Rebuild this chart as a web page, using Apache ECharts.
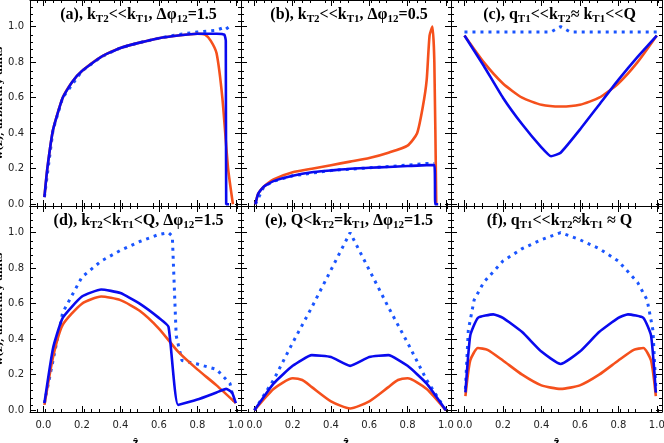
<!DOCTYPE html>
<html><head><meta charset="utf-8">
<script src="https://cdn.jsdelivr.net/npm/echarts@6/dist/echarts.min.js"></script>
<style>html,body{margin:0;padding:0;background:#fff}#c{width:664px;height:443px}</style>
</head><body><div id="c"></div>
<script>
const tickLabels = ['0.0','0.2','0.4','0.6','0.8','1.0'];
// panel (a)
const aSolidX = [0.005,0.02,0.05,0.1,0.15,0.2,0.3,0.4,0.5,0.6,0.7,0.8,0.9,0.94,0.948,0.95,0.965];
const aSolidY = [0.04,0.2,0.42,0.6,0.69,0.75,0.83,0.88,0.91,0.935,0.95,0.96,0.96,0.955,0.92,0,0];
const aOrX = [0.005,0.02,0.05,0.1,0.15,0.2,0.3,0.4,0.5,0.6,0.7,0.8,0.84,0.87,0.9,0.93,0.96,0.985];
const aOrY = [0.04,0.2,0.42,0.6,0.69,0.75,0.83,0.88,0.91,0.935,0.95,0.96,0.955,0.92,0.85,0.6,0.2,0];
const aDotX = [0.005,0.05,0.1,0.2,0.3,0.4,0.5,0.6,0.7,0.8,0.9,0.95,0.97];
const aDotY = [0.04,0.42,0.6,0.75,0.83,0.88,0.91,0.935,0.955,0.97,0.98,1.0,0.97];
// panel (b)
const bSolidX = [0.005,0.02,0.05,0.1,0.2,0.3,0.4,0.5,0.6,0.7,0.8,0.9,0.94,0.945,0.96];
const bSolidY = [0,0.06,0.1,0.13,0.16,0.18,0.19,0.2,0.205,0.21,0.215,0.22,0.22,0,0];
const bOrX = [0.005,0.02,0.05,0.1,0.2,0.3,0.4,0.5,0.6,0.7,0.8,0.85,0.88,0.9,0.915,0.93,0.94,0.95];
const bOrY = [0,0.06,0.1,0.14,0.18,0.2,0.22,0.24,0.26,0.29,0.33,0.4,0.55,0.7,0.95,1.0,0.8,0];
const bDotX = [0.005,0.05,0.1,0.2,0.4,0.6,0.8,0.9,0.94];
const bDotY = [0,0.1,0.13,0.16,0.19,0.205,0.22,0.23,0.23];
// panel (c)
const cSolidX = [0,0.1,0.2,0.3,0.4,0.45,0.5,0.6,0.7,0.8,0.9,1.0];
const cSolidY = [0.95,0.78,0.6,0.45,0.32,0.27,0.29,0.42,0.56,0.7,0.83,0.95];
const cOrX = [0,0.1,0.2,0.3,0.4,0.5,0.6,0.7,0.8,0.9,1.0];
const cOrY = [0.95,0.8,0.68,0.6,0.56,0.55,0.56,0.6,0.68,0.8,0.95];
const cDotX = [0,0.45,0.5,0.55,1.0];
const cDotY = [0.97,0.97,1.0,0.97,0.97];
// panel (d)
const dSolidX = [0.005,0.05,0.1,0.2,0.3,0.4,0.5,0.6,0.65,0.7,0.8,0.9,0.95,0.98,1.0];
const dSolidY = [0.04,0.35,0.52,0.64,0.68,0.66,0.6,0.52,0.47,0.03,0.06,0.1,0.12,0.1,0.04];
const dOrX = [0.005,0.05,0.1,0.2,0.3,0.4,0.5,0.6,0.7,0.8,0.9,1.0];
const dOrY = [0.03,0.3,0.48,0.6,0.64,0.62,0.56,0.46,0.33,0.23,0.14,0.04];
const dDotX = [0.005,0.1,0.2,0.3,0.4,0.5,0.6,0.65,0.67,0.69,0.72,0.8,0.9,0.97,0.99];
const dDotY = [0.04,0.55,0.75,0.84,0.9,0.95,0.99,1.0,0.98,0.42,0.28,0.26,0.23,0.15,0.05];
// panel (e)
const eSolidX = [0,0.1,0.2,0.3,0.4,0.5,0.6,0.7,0.8,0.9,1.0];
const eSolidY = [0,0.15,0.25,0.31,0.3,0.25,0.3,0.31,0.25,0.15,0];
const eOrX = [0,0.1,0.2,0.25,0.3,0.4,0.5,0.6,0.7,0.75,0.8,0.9,1.0];
const eOrY = [0,0.12,0.18,0.17,0.13,0.05,0.01,0.05,0.13,0.17,0.18,0.12,0];
const eDotX = [0,0.1,0.2,0.3,0.4,0.5,0.6,0.7,0.8,0.9,1.0];
const eDotY = [0,0.17,0.38,0.58,0.79,1.0,0.79,0.58,0.38,0.17,0];
// panel (f)
const fSolidX = [0.005,0.03,0.07,0.15,0.2,0.3,0.4,0.5,0.6,0.7,0.8,0.85,0.93,0.97,0.995];
const fSolidY = [0.1,0.42,0.52,0.54,0.52,0.44,0.33,0.26,0.33,0.44,0.52,0.54,0.52,0.42,0.1];
const fOrX = [0.005,0.03,0.07,0.12,0.2,0.3,0.4,0.5,0.6,0.7,0.8,0.88,0.93,0.97,0.995];
const fOrY = [0.08,0.28,0.35,0.34,0.28,0.2,0.14,0.12,0.14,0.2,0.28,0.34,0.35,0.28,0.08];
const fDotX = [0.005,0.02,0.05,0.1,0.2,0.3,0.4,0.5,0.6,0.7,0.8,0.9,0.95,0.98,0.995];
const fDotY = [0.12,0.45,0.62,0.72,0.84,0.91,0.96,1.0,0.96,0.91,0.84,0.72,0.62,0.45,0.12];

const panels = [
 {t:['(a), k','T2','<<k','T1',', Δφ','12','=1.5'], s:[aSolidX,aSolidY], o:[aOrX,aOrY], d:[aDotX,aDotY]},
 {t:['(b), k','T2','<<k','T1',', Δφ','12','=0.5'], s:[bSolidX,bSolidY], o:[bOrX,bOrY], d:[bDotX,bDotY]},
 {t:['(c), q','T1','<<k','T2','≈ k','T1','<<Q'], s:[cSolidX,cSolidY], o:[cOrX,cOrY], d:[cDotX,cDotY]},
 {t:['(d), k','T2','<k','T1','<Q, Δφ','12','=1.5'], s:[dSolidX,dSolidY], o:[dOrX,dOrY], d:[dDotX,dDotY]},
 {t:['(e), Q<k','T2','=k','T1',', Δφ','12','=1.5'], s:[eSolidX,eSolidY], o:[eOrX,eOrY], d:[eDotX,eDotY]},
 {t:['(f), q','T1','<<k','T2','≈k','T1',' ≈ Q'], s:[fSolidX,fSolidY], o:[fOrX,fOrY], d:[fDotX,fDotY]}
];
const lefts=[30,241,451], widths=[211,210,211], tops=[0,206], H=206;
const grid=[],xAxis=[],yAxis=[],series=[],graphic=[];
const zip=(a,b)=>a.map((v,i)=>[v,b[i]]);
const fmt=v=>v.toFixed(1);
const cv=[0,0.2,0.4,0.6,0.8,1.0];
panels.forEach((p,i)=>{
  const col=i%3,row=Math.floor(i/3);
  grid.push({left:lefts[col],top:tops[row],width:widths[col],height:H,containLabel:false,outerBoundsMode:'none'});
  const tk={show:true,inside:true,length:6,lineStyle:{color:'#000'},customValues:cv};
  const mt={show:true,splitNumber:5,length:3,lineStyle:{color:'#000'}};
  const line={show:true,onZero:false,lineStyle:{color:'#000',width:1}};
  const base={type:'value',gridIndex:i,interval:0.2,axisLine:line,axisTick:tk,minorTick:mt,splitLine:{show:false}};
  xAxis.push(Object.assign({},base,{min:-0.07,max:1.027,position:'bottom',
    axisLabel:{show:row===1,formatter:v=>fmt(v),fontSize:10,color:'#222',fontFamily:'DejaVu Sans',margin:8,customValues:cv},
    name:row===1?'ẑ':'',nameLocation:'middle',nameGap:26,nameTextStyle:{fontWeight:'bold',fontSize:12,color:'#000'}}));
  xAxis.push(Object.assign({},base,{min:-0.07,max:1.027,position:'top',axisLabel:{show:false}}));
  yAxis.push(Object.assign({},base,{min:-0.01,max:1.15,position:'left',
    axisLabel:{show:col===0,formatter:v=>fmt(v),fontSize:10,color:'#222',fontFamily:'DejaVu Sans',margin:6,customValues:cv},
    name:col===0?'w(ẑ), arbitrary units':'',nameLocation:'middle',nameGap:22,nameTextStyle:{fontWeight:'bold',fontSize:10,color:'#000',fontFamily:'DejaVu Serif'}}));
  yAxis.push(Object.assign({},base,{min:-0.01,max:1.15,position:'right',axisLabel:{show:false}}));
  const xi=2*i,yi=2*i;
  series.push({type:'line',xAxisIndex:xi,yAxisIndex:yi,data:zip(p.d[0],p.d[1]),showSymbol:false,lineStyle:{color:'#1a55ff',width:3,type:[3,5]}});
  series.push({type:'line',xAxisIndex:xi,yAxisIndex:yi,data:zip(p.o[0],p.o[1]),showSymbol:false,smooth:0.2,lineStyle:{color:'#f5501c',width:2.6}});
  series.push({type:'line',xAxisIndex:xi,yAxisIndex:yi,data:zip(p.s[0],p.s[1]),showSymbol:false,smooth:0.15,lineStyle:{color:'#0a0aee',width:2.6}});
  let txt='';
  p.t.forEach((s,k)=>{txt+=k%2===0?'{n|'+s+'}':'{s|'+s+'}';});
  graphic.push({type:'text',x:lefts[col]+widths[col]/2+3,y:tops[row]+4,style:{text:txt,align:'center',verticalAlign:'top',rich:{
    n:{fontFamily:'Liberation Serif',fontWeight:'bold',fontSize:16,fill:'#000'},
    s:{fontFamily:'Liberation Serif',fontWeight:'bold',fontSize:11,fill:'#000',padding:[10,0,0,0]}}}});
});
const chart=echarts.init(document.getElementById('c'),null,{renderer:'canvas'});
chart.setOption({animation:false,grid,xAxis,yAxis,series,graphic});
</script></body></html>
